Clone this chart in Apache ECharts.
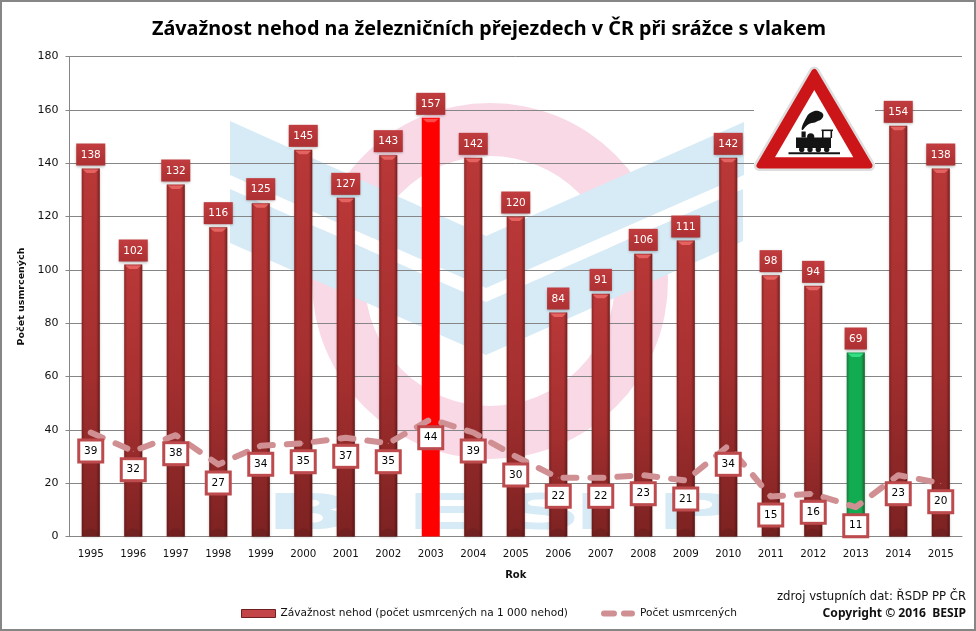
<!DOCTYPE html>
<html>
<head>
<meta charset="utf-8">
<style>html,body{margin:0;padding:0;background:#fff}#c{width:976px;height:631px}</style>
<script src="https://cdn.jsdelivr.net/npm/echarts@6/dist/echarts.min.js"></script>
</head>
<body>
<div id="c"></div>
<script>
const years = ['1995','1996','1997','1998','1999','2000','2001','2002','2003','2004','2005','2006','2007','2008','2009','2010','2011','2012','2013','2014','2015'];
const severity = [138,102,132,116,125,145,127,143,157,142,120,84,91,106,111,142,98,94,69,154,138];
const deaths = [39,32,38,27,34,35,37,35,44,39,30,22,22,23,21,34,15,16,11,23,20];
const worstYear = '2003';
const bestYear = '2013';
const titleText = 'Závažnost nehod na železničních přejezdech v ČR při srážce s vlakem';
const severityName = 'Závažnost nehod (počet usmrcených na 1 000 nehod)';
const deathsName = 'Počet usmrcených';
const sourceText = 'zdroj vstupních dat: ŘSDP PP ČR';
const copyrightText = 'Copyright © 2016  BESIP';

const FONT = '"DejaVu Sans", sans-serif';
const grad = (x2, y2, stops) => ({type:'linear',x:0,y:0,x2,y2,colorStops:stops.map(s=>({offset:s[0],color:s[1]}))});
const redBar = grad(0,1,[[0,'#c03a3a'],[0.55,'#aa3131'],[1,'#802323']]);
const barStyle = y => y===worstYear ? {color:'#ff0000',shadowBlur:0}
  : y===bestYear ? {color:'#0fb556'} : {color:redBar};

const chart = echarts.init(document.getElementById('c'), null, {renderer:'canvas'});
const ring = {type:'ring',silent:true,z:-3,shape:{cx:490,cy:281,r:178,r0:125},style:{fill:'#f9d9e6'}};
const wmBlue = '#d6ebf6';
const poly = (points,fill,z) => ({type:'polygon',silent:true,z,shape:{points},style:{fill}});
const letter = (t,x) => ({type:'text',silent:true,z:-1,x,y:541,scaleX:2.3,style:{text:t,font:'bold 50px "DejaVu Sans"',fill:wmBlue,textVerticalAlign:'bottom',textAlign:'left'}});
const SIGN_Z = 1;
const sgn = (o) => Object.assign({silent:true,z:SIGN_Z},o);
const black = '#141414';

chart.setOption({
  animation:false,
  backgroundColor:'#fff',
  title:{text:titleText,left:484,textAlign:'center',top:14,textStyle:{fontFamily:'"Noto Sans"',fontWeight:'bold',fontSize:19.8,color:'#000'}},
  grid:{left:69.5,right:14,top:56.5,bottom:94.5},
  legend:{
    left:236,top:603,itemGap:33,itemWidth:34,itemHeight:8,
    textStyle:{fontFamily:FONT,fontSize:10.6,color:'#111'},
    data:[
      {name:severityName,icon:'rect',itemStyle:{color:'#c44548',borderColor:'#6e1f20',borderWidth:1}},
      {name:deathsName,icon:'path://M3,0H13A3,3 0 0 1 13,6H3A3,3 0 0 1 3,0ZM23,0H31A3,3 0 0 1 31,6H23A3,3 0 0 1 23,0Z',itemHeight:6,itemStyle:{color:'#d09093',borderWidth:0}}
    ]
  },
  xAxis:{type:'category',data:years,name:'Rok',nameLocation:'middle',nameGap:34,
    nameTextStyle:{fontFamily:FONT,fontWeight:'bold',fontSize:10,color:'#111'},
    axisLine:{lineStyle:{color:'#868686',width:1}},axisTick:{show:false},
    axisLabel:{fontFamily:FONT,fontSize:10.3,color:'#111',margin:13,interval:0}},
  yAxis:{type:'value',min:0,max:180,interval:20,name:deathsName,nameLocation:'middle',nameGap:38,
    nameTextStyle:{fontFamily:FONT,fontWeight:'bold',fontSize:9.5,color:'#111'},
    axisLine:{show:true,lineStyle:{color:'#868686',width:1}},
    axisTick:{show:true,length:4,lineStyle:{color:'#868686'}},
    splitLine:{lineStyle:{color:'#868686',width:1}},
    axisLabel:{fontFamily:FONT,fontSize:11,color:'#111',margin:11}},
  series:[
    {name:severityName,type:'bar',barWidth:18,z:2,
     data:severity.map((v,i)=>({value:v,itemStyle:Object.assign({shadowBlur:3,shadowColor:'rgba(0,0,0,.28)'},barStyle(years[i]))})),
     label:{show:true,position:'top',distance:3,fontFamily:FONT,fontSize:10.5,color:'#fff',
       padding:[6,4.5,5,4.5],backgroundColor:grad(0,1,[[0,'#c13c3e'],[1,'#ad3032']]),
       shadowBlur:3,shadowColor:'rgba(0,0,0,.35)',shadowOffsetY:1}},
    {name:'bar-shade',type:'custom',z:3,silent:true,legendHoverLink:false,tooltip:{show:false},
     data:severity.map((v,i)=>[i,v]),
     renderItem:(params,api)=>{
       const top=api.coord([api.value(0),api.value(1)]), base=api.coord([api.value(0),0]);
       const w=api.size([1,0])[0]*18/42.52, l=top[0]-w/2, yr=years[api.value(0)];
       const hl = yr===worstYear?'#ff4a4a':yr===bestYear?'#35dd84':'#e4625f';
       const kids=[];
       if(yr!==worstYear){
         kids.push({type:'rect',shape:{x:l,y:top[1],width:w,height:base[1]-top[1]},style:{fill:grad(1,0,[[0,'rgba(60,10,10,.38)'],[0.16,'rgba(60,10,10,.05)'],[0.8,'rgba(60,10,10,.05)'],[1,'rgba(40,5,5,.5)']])}});
         kids.push({type:'sector',shape:{cx:top[0],cy:base[1],r:w/2-1,startAngle:Math.PI,endAngle:2*Math.PI},style:{fill:'rgba(60,20,20,.18)'}});
       }
       kids.push({type:'polygon',shape:{points:[[l+1,top[1]+1],[l+w-1,top[1]+1],[l+w-5,top[1]+4.5],[l+5,top[1]+4.5]]},style:{fill:hl}});
       return {type:'group',children:kids};
     }},
    {name:deathsName,type:'line',z:4,data:deaths,showSymbol:true,showAllSymbol:true,symbol:'circle',symbolSize:1,smooth:false,
     itemStyle:{color:'#d09093'},
     lineStyle:{color:'#d09093',width:6,type:[13,14],cap:'round',join:'round'},
     label:{show:true,position:'bottom',distance:18,fontFamily:FONT,fontSize:10.5,color:'#000',
       width:21,height:19,lineHeight:19,align:'center',verticalAlign:'middle',
       backgroundColor:'#fff',borderColor:'#bd4a4d',borderWidth:3}}
  ],
  graphic:[
    {type:'rect',silent:true,z:-4,shape:{x:0,y:0,width:976,height:631},style:{fill:'#fff'}},
    ring,
    poly([[230,175],[486,288],[743,175],[743,189],[486,302],[230,189]],'#fff',-2),
    poly([[230,121],[486,236],[744,122],[744,175],[486,288],[230,175]],wmBlue,-1),
    poly([[230,189],[486,302],[743,189],[743,241],[486,355],[230,243]],wmBlue,-1),
    letter('B',265),letter('E',405),letter('S',500),letter('I',572),letter('P',655),
    // road sign
    sgn({type:'rect',shape:{x:754,y:60,width:121,height:116},style:{fill:'#fff'}}),
    sgn({type:'polygon',shape:{points:[[814.3,72],[759.5,165.5],[869.5,165.5]]},style:{fill:'#ddd',stroke:'#dedede',lineWidth:11,lineJoin:'round'}}),
    sgn({type:'polygon',shape:{points:[[814.3,72],[759.5,165.5],[869.5,165.5]]},style:{fill:'#cc1519',stroke:'#cc1519',lineWidth:6,lineJoin:'round'}}),
    sgn({type:'polygon',shape:{points:[[814.3,90],[775,157.3],[853.3,157.3]]},style:{fill:'#fff'}}),
    sgn({type:'rect',shape:{x:788.5,y:152.3,width:51.5,height:2},style:{fill:black}}),
    sgn({type:'rect',shape:{x:796,y:137.5,width:35,height:10.5},style:{fill:black}}),
    sgn({type:'rect',shape:{x:821.5,y:129.5,width:11.5,height:1.6},style:{fill:black}}),
    sgn({type:'rect',shape:{x:822,y:130,width:1.6,height:8},style:{fill:black}}),
    sgn({type:'rect',shape:{x:830.5,y:130,width:1.6,height:8},style:{fill:black}}),
    sgn({type:'rect',shape:{x:801.5,y:131.5,width:4.2,height:6},style:{fill:black}}),
    sgn({type:'circle',shape:{cx:810.7,cy:136.8,r:3.6},style:{fill:black}}),
    sgn({type:'circle',shape:{cx:801.7,cy:149.5,r:2.7},style:{fill:black}}),
    sgn({type:'circle',shape:{cx:810,cy:149.5,r:2.7},style:{fill:black}}),
    sgn({type:'circle',shape:{cx:818.3,cy:149.5,r:2.7},style:{fill:black}}),
    sgn({type:'circle',shape:{cx:826.7,cy:149.5,r:2.7},style:{fill:black}}),
    sgn({type:'polygon',shape:{smooth:0.5,points:[[802,130],[805,120],[812,112],[821,112],[823,117],[816,122],[809,124]]},style:{fill:black}}),
    // source notes
    {type:'text',silent:true,z:5,x:966,y:597,style:{text:sourceText,font:'11.7px "DejaVu Sans"',fill:'#111',textAlign:'right',textVerticalAlign:'middle'}},
    {type:'text',silent:true,z:5,x:966,y:614,style:{text:copyrightText,font:'bold 12.1px "Noto Sans"',fill:'#111',textAlign:'right',textVerticalAlign:'middle'}},
    {type:'rect',silent:true,z:6,shape:{x:1,y:1,width:974,height:629},style:{fill:'none',stroke:'#868686',lineWidth:2}}
  ]
});
</script>
</body>
</html>
